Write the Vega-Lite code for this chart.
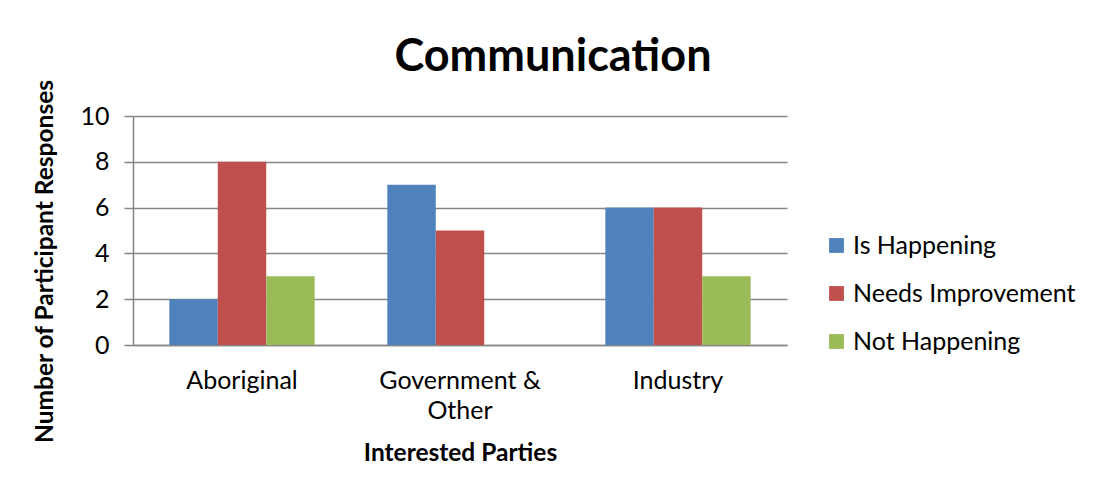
{
  "$schema": "https://vega.github.io/schema/vega-lite/v6.json",
  "width": 654,
  "height": 229,
  "autosize": {"type": "none"},
  "padding": {"left": 133, "top": 116, "right": 308, "bottom": 152},
  "background": "white",
  "title": {
    "text": "Communication",
    "font": "Lato",
    "fontSize": 45,
    "fontWeight": "bold",
    "color": "#000000",
    "anchor": "middle",
    "offset": -1,
    "dx": 93
  },
  "data": {
    "values": [
      {"party": "Aboriginal", "status": "Is Happening", "count": 2},
      {"party": "Aboriginal", "status": "Needs Improvement", "count": 8},
      {"party": "Aboriginal", "status": "Not Happening", "count": 3},
      {"party": "Government & Other", "status": "Is Happening", "count": 7},
      {"party": "Government & Other", "status": "Needs Improvement", "count": 5},
      {"party": "Government & Other", "status": "Not Happening", "count": 0},
      {"party": "Industry", "status": "Is Happening", "count": 6},
      {"party": "Industry", "status": "Needs Improvement", "count": 6},
      {"party": "Industry", "status": "Not Happening", "count": 3}
    ]
  },
  "mark": {"type": "bar"},
  "encoding": {
    "x": {
      "field": "party",
      "type": "nominal",
      "sort": ["Aboriginal", "Government & Other", "Industry"],
      "scale": {"paddingInner": 0.3333, "paddingOuter": 0.1667},
      "axis": {
        "title": "Interested Parties",
        "titleFont": "Lato",
        "titleFontSize": 24.5,
        "titleFontWeight": "bold",
        "titleColor": "#000000",
        "titlePadding": 18,
        "labelAngle": 0,
        "labelFont": "Lato",
        "labelFontSize": 25,
        "labelColor": "#000000",
        "labelPadding": 23,
        "labelLineHeight": 30,
        "labelLimit": 300,
        "labelExpr": "datum.label == 'Government & Other' ? ['Government &', 'Other'] : datum.label",
        "ticks": false,
        "domainColor": "#868686",
        "domainWidth": 1.5,
        "grid": false
      }
    },
    "xOffset": {
      "field": "status",
      "type": "nominal",
      "sort": ["Is Happening", "Needs Improvement", "Not Happening"],
      "scale": {"paddingInner": 0, "paddingOuter": 0}
    },
    "y": {
      "field": "count",
      "type": "quantitative",
      "scale": {"domain": [0, 10]},
      "axis": {
        "title": "Number of Participant Responses",
        "titleFont": "Lato",
        "titleFontSize": 24.5,
        "titleFontWeight": "bold",
        "titleColor": "#000000",
        "titleY": 145,
        "titleX": -76,
        "values": [0, 2, 4, 6, 8, 10],
        "labelFont": "Lato",
        "labelFontSize": 25,
        "labelColor": "#000000",
        "labelPadding": 15,
        "tickSize": 9,
        "tickColor": "#868686",
        "tickWidth": 1.5,
        "gridColor": "#868686",
        "gridWidth": 1.5,
        "domainColor": "#868686",
        "domainWidth": 1.5
      }
    },
    "color": {
      "field": "status",
      "type": "nominal",
      "sort": ["Is Happening", "Needs Improvement", "Not Happening"],
      "scale": {
        "domain": ["Is Happening", "Needs Improvement", "Not Happening"],
        "range": ["#4F81BD", "#C0504D", "#9BBB59"]
      },
      "legend": {
        "title": null,
        "orient": "none",
        "legendX": 691,
        "legendY": 117,
        "symbolType": "square",
        "symbolSize": 220,
        "symbolStrokeWidth": 0,
        "symbolOpacity": 1,
        "labelFont": "Lato",
        "labelFontSize": 25,
        "labelColor": "#000000",
        "labelOffset": 4,
        "labelLimit": 300,
        "rowPadding": 22
      }
    }
  },
  "config": {
    "view": {"stroke": null},
    "bar": {"stroke": "white", "strokeWidth": 0}
  }
}
